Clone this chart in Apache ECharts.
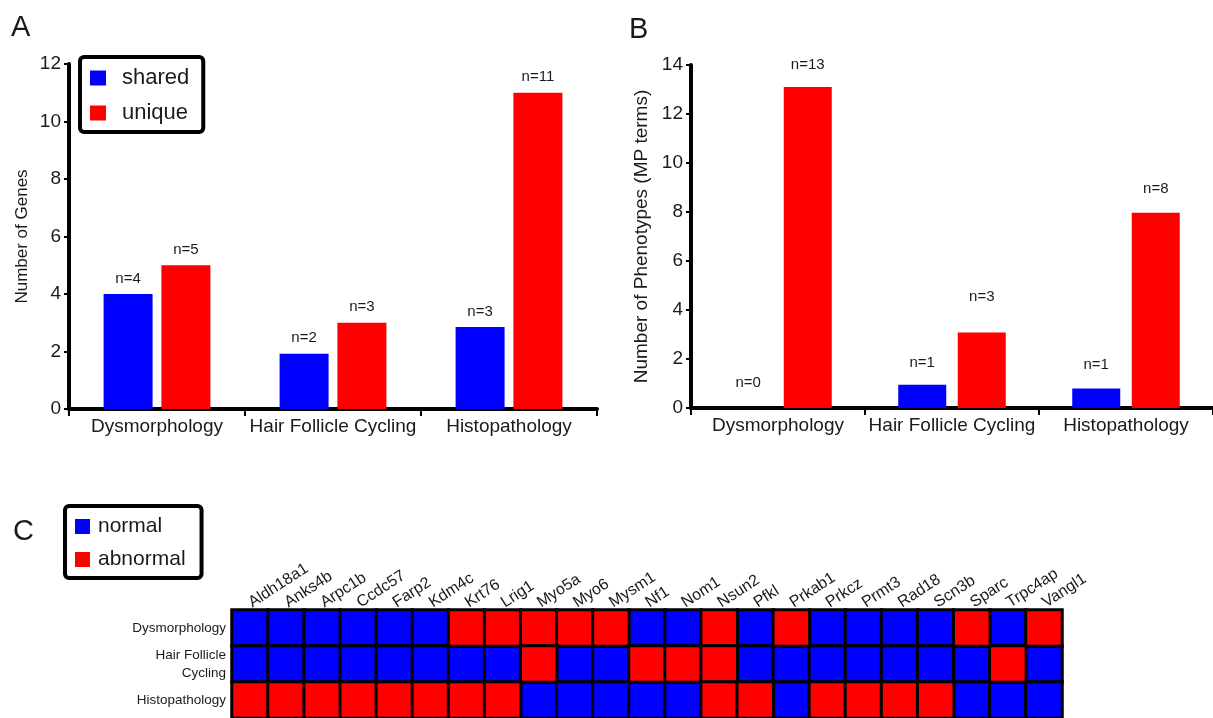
<!DOCTYPE html>
<html><head><meta charset="utf-8">
<script src="https://cdn.jsdelivr.net/npm/echarts@6/dist/echarts.min.js"></script>
<style>html,body{margin:0;padding:0;background:#fff}#c{width:1213px;height:718px}</style>
</head><body><div id="c"></div>
<script>
// ---------- data ----------
const categories = ['Dysmorphology', 'Hair Follicle Cycling', 'Histopathology'];
const genesShared = [4, 1.92, 2.85];      // bar heights
const genesUnique = [5, 3, 11];
const genesSharedN = [4, 2, 3];           // printed counts
const genesUniqueN = [5, 3, 11];
const phenoShared = [0, 0.95, 0.8];
const phenoUnique = [13.1, 3.08, 7.97];
const phenoSharedN = [0, 1, 1];
const phenoUniqueN = [13, 3, 8];
const genes = ['Aldh18a1','Anks4b','Arpc1b','Ccdc57','Farp2','Kdm4c','Krt76','Lrig1','Myo5a','Myo6','Mysm1','Nf1','Nom1','Nsun2','Pfkl','Prkab1','Prkcz','Prmt3','Rad18','Scn3b','Sparc','Trpc4ap','Vangl1'];
const phenotypeRows = ['Dysmorphology', 'Hair Follicle\nCycling', 'Histopathology'];
// 0 = normal, 1 = abnormal
const dysmorphologyStatus  = [0,0,0,0,0,0,1,1,1,1,1,0,0,1,0,1,0,0,0,0,1,0,1];
const hairFollicleStatus   = [0,0,0,0,0,0,0,0,1,0,0,1,1,1,0,0,0,0,0,0,0,1,0];
const histopathologyStatus = [1,1,1,1,1,1,1,1,0,0,0,0,0,1,1,0,1,1,1,1,0,0,0];

// ---------- styling ----------
const FONT = 'Liberation Sans';
const BLUE = '#0000ff', RED = '#ff0000', INK = '#1a1a1a';
const statusRows = [dysmorphologyStatus, hairFollicleStatus, histopathologyStatus];
const normalCells = [], abnormalCells = [];
statusRows.forEach((row, r) => row.forEach((v, c) => (v ? abnormalCells : normalCells).push([c, r, v])));

const gapsBShared = [18, 14, 16];
const gapsBUnique = [15, 28, 16];

function catAxis(gi) {
  return {
    type: 'category', gridIndex: gi, data: categories,
    axisLine: { lineStyle: { color: '#000', width: 4 } },
    axisTick: { show: true, interval: 0, length: 7, lineStyle: { color: '#000', width: 2 } },
    axisLabel: { interval: 0, color: INK, fontFamily: FONT, fontSize: 19, margin: 8 }
  };
}
function valAxis(gi, max, name, nameSize, nameGap) {
  return {
    type: 'value', gridIndex: gi, min: 0, max: max, interval: 2,
    name: name, nameLocation: 'middle', nameGap: nameGap,
    nameTextStyle: { color: INK, fontFamily: FONT, fontSize: nameSize },
    axisLine: { show: true, lineStyle: { color: '#000', width: 4 } },
    axisTick: { show: true, length: 5, lineStyle: { color: '#000', width: 2 } },
    splitLine: { show: false },
    axisLabel: { color: INK, fontFamily: FONT, fontSize: 19, margin: 8 }
  };
}
function barLabel(nArr) {
  return {
    show: true, position: 'top', color: INK, fontFamily: FONT, fontSize: 15,
    distance: 8,
    formatter: p => 'n=' + nArr[p.dataIndex]
  };
}
function withGaps(vals, gaps) {
  return vals.map((v, i) => ({ value: v, label: { distance: gaps[i] } }));
}

const option = {
  animation: false,
  title: [
    { text: 'A', left: 6, top: 8, textStyle: { fontFamily: FONT, fontSize: 29, fontWeight: 'normal', color: INK } },
    { text: 'B', left: 624, top: 10, textStyle: { fontFamily: FONT, fontSize: 29, fontWeight: 'normal', color: INK } },
    { text: 'C', left: 8, top: 512, textStyle: { fontFamily: FONT, fontSize: 29, fontWeight: 'normal', color: INK } }
  ],
  legend: [
    { data: ['shared', 'unique'], left: 80, top: 57, orient: 'vertical',
      borderColor: '#000', borderWidth: 4, borderRadius: 4, padding: [10, 14, 8, 10],
      itemWidth: 16, itemHeight: 15, itemGap: 13, icon: 'rect',
      itemStyle: { borderWidth: 0 },
      textStyle: { fontFamily: FONT, fontSize: 22, color: INK, padding: [0, 0, 0, 11] } },
    { data: ['normal', 'abnormal'], left: 65, top: 506, orient: 'vertical',
      borderColor: '#000', borderWidth: 4, borderRadius: 4, padding: [10, 16, 8, 10],
      itemWidth: 15, itemHeight: 15, itemGap: 12, icon: 'rect',
      itemStyle: { borderWidth: 0 },
      textStyle: { fontFamily: FONT, fontSize: 21, color: INK, padding: [0, 0, 0, 3] } }
  ],
  grid: [
    { left: 69, top: 64, width: 528, height: 345 },
    { left: 691, top: 65, width: 530, height: 343 },
    { left: 232, top: 610, width: 830, height: 110 }
  ],
  xAxis: [
    catAxis(0), catAxis(1),
    { type: 'category', gridIndex: 2, data: genes, position: 'top',
      axisLine: { show: false }, axisTick: { show: false }, splitLine: { show: false },
      axisLabel: { interval: 0, rotate: -33, color: INK, fontFamily: FONT, fontSize: 16, margin: 6 } }
  ],
  yAxis: [
    valAxis(0, 12, 'Number of Genes', 17, 38),
    valAxis(1, 14, 'Number of Phenotypes (MP terms)', 19, 40),
    { type: 'category', gridIndex: 2, data: phenotypeRows, inverse: true,
      axisLine: { show: false }, axisTick: { show: false }, splitLine: { show: false },
      axisLabel: { color: INK, fontFamily: FONT, fontSize: 13.5, margin: 6, lineHeight: 18 } }
  ],
  series: [
    { name: 'shared', type: 'bar', xAxisIndex: 0, yAxisIndex: 0, data: genesShared,
      barWidth: 49, barGap: '18%', itemStyle: { color: BLUE }, label: barLabel(genesSharedN) },
    { name: 'unique', type: 'bar', xAxisIndex: 0, yAxisIndex: 0, data: genesUnique,
      barWidth: 49, barGap: '18%', itemStyle: { color: RED }, label: barLabel(genesUniqueN) },
    { name: 'shared', type: 'bar', xAxisIndex: 1, yAxisIndex: 1, data: withGaps(phenoShared, gapsBShared),
      barWidth: 48, barGap: '24%', itemStyle: { color: BLUE }, label: barLabel(phenoSharedN) },
    { name: 'unique', type: 'bar', xAxisIndex: 1, yAxisIndex: 1, data: withGaps(phenoUnique, gapsBUnique),
      barWidth: 48, barGap: '24%', itemStyle: { color: RED }, label: barLabel(phenoUniqueN) },
    { name: 'normal', type: 'heatmap', xAxisIndex: 2, yAxisIndex: 2, data: normalCells,
      itemStyle: { color: BLUE, borderColor: '#000', borderWidth: 3 }, emphasis: { disabled: true } },
    { name: 'abnormal', type: 'heatmap', xAxisIndex: 2, yAxisIndex: 2, data: abnormalCells,
      itemStyle: { color: RED, borderColor: '#000', borderWidth: 3 }, emphasis: { disabled: true } }
  ]
};
const chart = echarts.init(document.getElementById('c'), null, { renderer: 'canvas' });
chart.setOption(option);
</script></body></html>
